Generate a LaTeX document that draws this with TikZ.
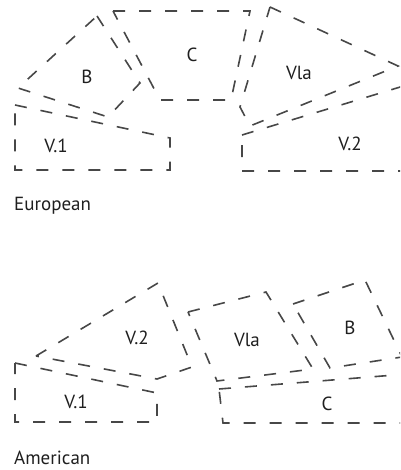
\documentclass[tikz,border=0pt]{standalone}
\usepackage{fontspec}
\setmainfont{PT Sans}
\begin{document}
\begin{tikzpicture}[x=1pt,y=-1pt,
  part/.style={draw=black!72, line width=1.6pt, dash pattern=on 12pt off 14pt, line join=miter},
  lbl/.style={font=\fontsize{19}{22}\selectfont, text=black!88, inner sep=0pt},
  caption/.style={lbl, anchor=west}]
\useasboundingbox (0,0) rectangle (400,470);
\clip (0,0) rectangle (400,470);
% ---------- European ----------
\draw[part] (15,105) -- (170,138) -- (170,170) -- (15,170) -- cycle;
\draw[part] (97,16) -- (140,83) -- (108,117) -- (18,88) -- cycle;
\draw[part] (113,11) -- (250,11) -- (231,100) -- (160,100) -- cycle;
\draw[part] (270,7) -- (398,66) -- (250,126) -- (240,107) -- cycle;
\draw[part] (242,135) -- (420,81) -- (420,171) -- (242,171) -- cycle;
\node[lbl] (eB) at (87,77) {B};
\node[lbl] (eC) at (192,55) {C};
\node[lbl] (eVla) at (299,73) {Vla};
\node[lbl] (eV1) at (56,146) {V.1};
\node[lbl] (eV2) at (350,144) {V.2};
\node[caption] (eur) at (14,206) {European};
% ---------- American ----------
\draw[part] (15,363) -- (157,393) -- (157,422) -- (15,422) -- cycle;
\draw[part] (36,356) -- (158,283) -- (192,367) -- (157,379) -- cycle;
\draw[part] (188,312) -- (266,292) -- (313,369) -- (217,381) -- cycle;
\draw[part] (293,304) -- (365,280) -- (402,357) -- (330,368) -- cycle;
\draw[part] (219,389) -- (420,373) -- (420,423) -- (223,423) -- cycle;
\node[lbl] (aV2) at (137,338) {V.2};
\node[lbl] (aV1) at (76,402) {V.1};
\node[lbl] (aVla) at (247,340) {Vla};
\node[lbl] (aB) at (350,328) {B};
\node[lbl] (aC) at (327,404) {C};
\node[caption] (ame) at (14,458) {American};
\end{tikzpicture}
\end{document}
